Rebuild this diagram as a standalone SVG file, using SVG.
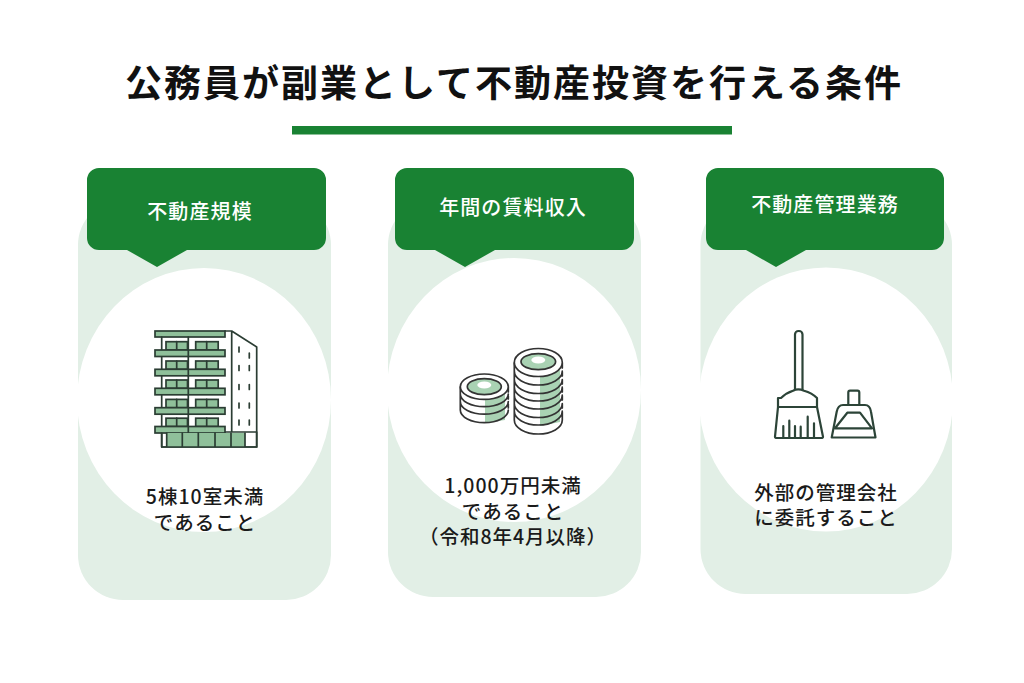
<svg xmlns="http://www.w3.org/2000/svg" width="1024" height="683" viewBox="0 0 1024 683">
<style>
text{font-family:"Noto Sans CJK JP","Noto Sans",sans-serif;text-anchor:middle}
.card{fill:#e2efe6}.hole{fill:#fff}.head{fill:#198233}
.t{fill:#111;font-size:37px;font-weight:700;letter-spacing:2px}
.h{fill:#fff;font-size:20px;font-weight:500;letter-spacing:1.1px}
.b{fill:#1a1a1a;font-size:19.500px;font-weight:500;letter-spacing:1px}
.k{stroke:#2b3d33;stroke-width:1.700;fill:none;stroke-linejoin:round;stroke-linecap:round}
.g{fill:#8fc09a;stroke:#2b3d33;stroke-width:1.700}
.r{stroke:#333;stroke-width:1.700;fill:none;stroke-linecap:round}
.w{fill:#fff;stroke:#333;stroke-width:1.700}
.i{fill:#a9d2b3;stroke:#333;stroke-width:1.700}
.s{fill:#a9d2b3}
.br{stroke:#2c4438;stroke-width:2.200;fill:#fff;stroke-linejoin:round;stroke-linecap:round}
</style>
<defs>
<g id="fl"><rect x="166" y="-8.300" width="21.500" height="8.300" class="g"/><rect x="195.700" y="-8.300" width="22.500" height="8.300" class="g"/><path d="M176.700 -8.300V0M206.700 -8.300V0" class="k"/><rect x="155" y="0" width="70" height="6.500" class="g"/><path d="M188.300 0V6.500" class="k"/></g>
</defs>
<rect width="1024" height="683" fill="#fff"/>
<g id="title"><text class="t" x="514" y="97">公務員が副業として不動産投資を行える条件</text><rect x="292" y="126" width="440" height="8.500" fill="#198233"/></g>
<g id="node1">
<rect class="card" x="78" y="200" width="253" height="400" rx="45"/>
<ellipse class="hole" cx="204" cy="400" rx="127" ry="132"/>
<path class="head" d="M99 168H314a12 12 0 0 1 12 12V238a12 12 0 0 1-12 12H187L157 267L127 250H99a12 12 0 0 1-12-12V180a12 12 0 0 1 12-12Z"/>
<text class="h" x="200" y="219">不動産規模</text>
<g id="building">
<rect x="155" y="331" width="70" height="6" class="g"/>
<path class="k" d="M225 331H231.700L256.700 347V447H161.700V432M161.700 337V427M188.300 337V427M231.700 331V432M161.700 432H256.700"/>
<path class="k" d="M239 347v5M249.300 353v5M239 365.500v5M249.300 365.500v5M239 384.500v5M249.300 384.500v5M239 403v5M249.300 403v5M239 420v5M249.300 420v5"/>
<use href="#fl" y="350"/><use href="#fl" y="369.300"/><use href="#fl" y="388.300"/><use href="#fl" y="407.700"/><use href="#fl" y="426.500"/>
<rect x="166.700" y="433" width="78.300" height="14" fill="#8fc09a"/>
<path class="k" d="M161.700 433V447H256.700V432M166.700 433V447M182.300 433V447M198.300 433V447M215 433V447M231 433V447M245 433V447"/>
</g>
<text class="b" x="205" y="504">5棟10室未満</text><text class="b" x="205" y="529.500">であること</text>
</g>
<g id="node2">
<rect class="card" x="388" y="200" width="253" height="397" rx="45"/>
<ellipse class="hole" cx="514" cy="390" rx="127" ry="132"/>
<path class="head" d="M407 168H622a12 12 0 0 1 12 12V238a12 12 0 0 1-12 12H495L465 267L435 250H407a12 12 0 0 1-12-12V180a12 12 0 0 1 12-12Z"/>
<text class="h" x="513" y="215">年間の賃料収入</text>
<g id="coins">
<path class="s" d="M485 396L505 392V420L485 423Z"/>
<path class="r" d="M460.300 394A24 12.700 0 0 0 508.300 394M460.300 401.500A24 12.700 0 0 0 508.300 401.500M460.300 410A24 12.700 0 0 0 508.300 410M460.300 387V410M508.300 387V392M508.300 396V399M508.300 404V408"/>
<ellipse class="w" cx="484.300" cy="386.700" rx="24" ry="12.700"/>
<ellipse class="i" cx="484.300" cy="386.700" rx="17" ry="8"/>
<ellipse cx="484.300" cy="385" rx="7" ry="3.500" fill="#fff"/>
<path class="s" d="M540 374L560 370V422L540 426Z"/>
<path class="r" d="M514.300 371A24 14 0 0 0 562.300 371M514.300 379.500A24 14 0 0 0 562.300 379.500M514.300 387A24 14 0 0 0 562.300 387M514.300 395A24 14 0 0 0 562.300 395M514.300 403.500A24 14 0 0 0 562.300 403.500M514.300 411A24 14 0 0 0 562.300 411M514.300 420A24 14 0 0 0 562.300 420M514.300 363V420M562.300 363V368M562.300 372V376M562.300 380V384M562.300 388V392M562.300 396V400M562.300 404V408M562.300 412V420"/>
<ellipse class="w" cx="538.300" cy="362.500" rx="24" ry="14"/>
<ellipse class="i" cx="538.300" cy="361.700" rx="17.300" ry="8"/>
<ellipse cx="538.300" cy="360" rx="7" ry="3.500" fill="#fff"/>
</g>
<text class="b" x="513" y="493">1,000万円未満</text><text class="b" x="513" y="518.500">であること</text><text class="b" x="513" y="543.500">（令和8年4月以降）</text>
</g>
<g id="node3">
<rect class="card" x="700.500" y="200" width="251.500" height="394" rx="45"/>
<ellipse class="hole" cx="826" cy="399.500" rx="127" ry="132"/>
<path class="head" d="M718 168H932a12 12 0 0 1 12 12V238a12 12 0 0 1-12 12H806L776 267L746 250H718a12 12 0 0 1-12-12V180a12 12 0 0 1 12-12Z"/>
<text class="h" x="825" y="212">不動産管理業務</text>
<g id="broom" class="br">
<rect x="795" y="331" width="7.500" height="62" rx="3.500"/>
<path d="M781 398Q786 393 793 390.700Q798 388 804 390.700Q812 393 817 398V407H778V398Z"/>
<path d="M778 407L775 436.700Q775 438 777 438H821Q823 438 823 436.700L817 407Z"/>
<path d="M783.300 437V426M789.300 437V420.700M795 437V426M800.700 437V426.700M807.700 437V416.700M814 437V423.300"/>
<path d="M848.300 405V392.500Q848.300 390.700 850 390.700H857.500Q859.300 390.700 859.300 392.500V405Z"/>
<path d="M831.700 437.500L836.700 411.700Q838 405 843 405H865Q870 405 871 411.700L875.500 437.500Z"/>
<path d="M835 428.300H872M835 428.300L847.300 412.700H860L872 428.300"/>
</g>
<text class="b" x="826" y="499.500">外部の管理会社</text><text class="b" x="826" y="525">に委託すること</text>
</g>
</svg>
